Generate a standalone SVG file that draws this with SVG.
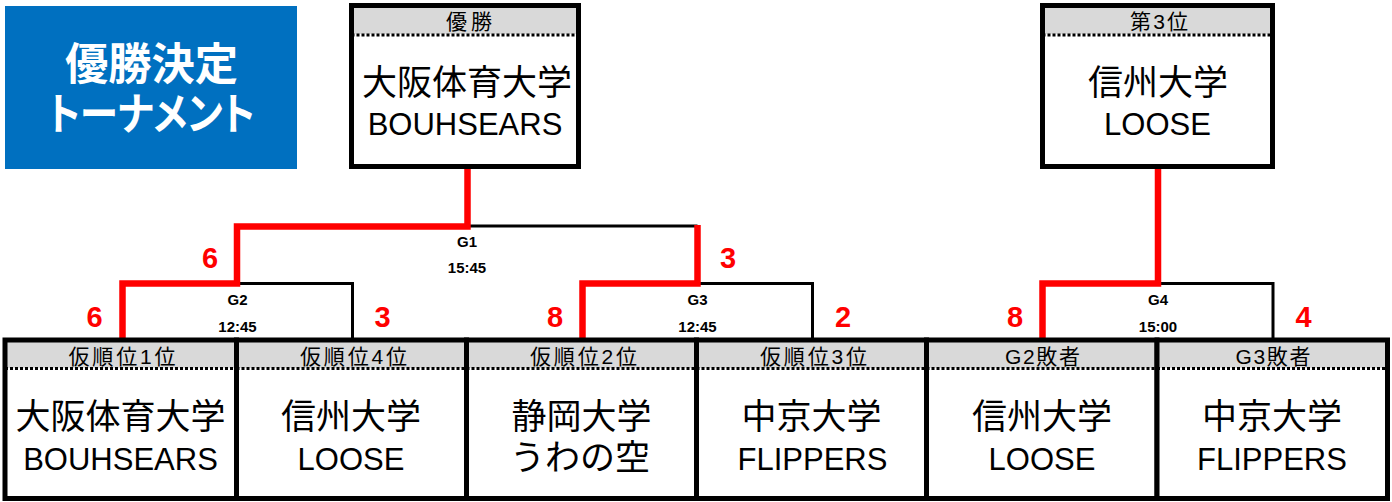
<svg xmlns="http://www.w3.org/2000/svg" width="1392" height="502" viewBox="0 0 1392 502">
<style>
text{font-family:"Liberation Sans","Noto Sans CJK JP",sans-serif;text-anchor:middle;fill:#000}
.hd{font-size:21px}
.jp{font-size:35px}
.en{font-size:31px}
.gl{font-size:15px;font-weight:bold}
.sc{font-size:29px;font-weight:bold;fill:#FF0000}
.ttl{font-size:44px;font-weight:bold;fill:#fff;font-family:"Noto Sans CJK JP",sans-serif;font-feature-settings:"palt"}
.bg{fill:#fff}
.hdbg{fill:#D9D9D9}
.dot{stroke:#000;stroke-width:3;stroke-dasharray:3 2;fill:none}
.bd{fill:none;stroke:#000;stroke-width:5}
.bk{fill:none;stroke:#000;stroke-width:3}
.rd{fill:none;stroke:#FF0000;stroke-width:6.5;stroke-linejoin:miter}
</style>
<rect width="1392" height="502" fill="#fff"/>
<g id="title">
<rect x="5" y="6" width="292" height="163" fill="#0070C0"/>
<text class="ttl" x="151.5" y="80" textLength="173" lengthAdjust="spacingAndGlyphs">優勝決定</text>
<text class="ttl" x="151.5" y="130" textLength="207" lengthAdjust="spacingAndGlyphs">トーナメント</text>
</g>
<g id="connectors">
<path class="bk" d="M467.5 226 H697.5"/>
<path class="bk" d="M237 283.5 H352.5 V340"/>
<path class="bk" d="M697.5 283.5 H812.5 V340"/>
<path class="bk" d="M1158 283.5 H1273 V340"/>
<path class="rd" d="M467.5 166 V226.5 H237 V283.5 H122.5 V340"/>
<path class="rd" d="M697.5 225 V283.5 H582.5 V340"/>
<path class="rd" d="M1158 166 V283.5 H1042.5 V340"/>
</g>
<g id="labels">
<text class="gl" x="467" y="247">G1</text>
<text class="gl" x="467" y="273">15:45</text>
<text class="gl" x="237.5" y="305">G2</text>
<text class="gl" x="237.5" y="332">12:45</text>
<text class="gl" x="697.5" y="305">G3</text>
<text class="gl" x="697.5" y="332">12:45</text>
<text class="gl" x="1158" y="305">G4</text>
<text class="gl" x="1158" y="332">15:00</text>
<text class="sc" x="210" y="268">6</text>
<text class="sc" x="728" y="268">3</text>
<text class="sc" x="94.5" y="327">6</text>
<text class="sc" x="382.5" y="327">3</text>
<text class="sc" x="555" y="327">8</text>
<text class="sc" x="843" y="327">2</text>
<text class="sc" x="1015" y="327">8</text>
<text class="sc" x="1303.5" y="327">4</text>
</g>
<g id="winner">
<rect class="bg" x="351.5" y="5.5" width="227" height="161"/>
<rect class="hdbg" x="351.5" y="5.5" width="227" height="28.5"/>
<line class="dot" x1="351.5" y1="35" x2="578.5" y2="35"/>
<rect class="bd" x="351.5" y="5.5" width="227" height="161"/>
<text class="hd" x="469" y="29" textLength="46">優勝</text>
<text class="jp" x="467" y="95">大阪体育大学</text>
<text class="en" x="465" y="135">BOUHSEARS</text>
</g>
<g id="third">
<rect class="bg" x="1042.5" y="5.5" width="230" height="161"/>
<rect class="hdbg" x="1042.5" y="5.5" width="230" height="28.5"/>
<line class="dot" x1="1042.5" y1="35" x2="1272.5" y2="35"/>
<rect class="bd" x="1042.5" y="5.5" width="230" height="161"/>
<text class="hd" x="1159" y="29" textLength="58">第3位</text>
<text class="jp" x="1158" y="95">信州大学</text>
<text class="en" x="1157.5" y="135">LOOSE</text>
</g>
<g id="seed1">
<rect class="bg" x="5" y="340" width="231.5" height="158.5"/>
<rect class="hdbg" x="5" y="340" width="231.5" height="28"/>
<line class="dot" x1="5" y1="368.5" x2="236.5" y2="368.5"/>
<rect class="bd" x="5" y="340" width="231.5" height="158.5"/>
<text class="hd" x="122" y="363.5" textLength="107">仮順位1位</text>
<text class="jp" x="120.5" y="429">大阪体育大学</text>
<text class="en" x="120.5" y="470">BOUHSEARS</text>
</g>
<g id="seed4">
<rect class="bg" x="236.5" y="340" width="230" height="158.5"/>
<rect class="hdbg" x="236.5" y="340" width="230" height="28"/>
<line class="dot" x1="236.5" y1="368.5" x2="466.5" y2="368.5"/>
<rect class="bd" x="236.5" y="340" width="230" height="158.5"/>
<text class="hd" x="353.5" y="363.5" textLength="107">仮順位4位</text>
<text class="jp" x="351" y="429">信州大学</text>
<text class="en" x="351" y="470">LOOSE</text>
</g>
<g id="seed2">
<rect class="bg" x="466.5" y="340" width="230" height="158.5"/>
<rect class="hdbg" x="466.5" y="340" width="230" height="28"/>
<line class="dot" x1="466.5" y1="368.5" x2="696.5" y2="368.5"/>
<rect class="bd" x="466.5" y="340" width="230" height="158.5"/>
<text class="hd" x="583.5" y="363.5" textLength="107">仮順位2位</text>
<text class="jp" x="581.5" y="429">静岡大学</text>
<text class="jp" x="580" y="470">うわの空</text>
</g>
<g id="seed3">
<rect class="bg" x="696.5" y="340" width="230" height="158.5"/>
<rect class="hdbg" x="696.5" y="340" width="230" height="28"/>
<line class="dot" x1="696.5" y1="368.5" x2="926.5" y2="368.5"/>
<rect class="bd" x="696.5" y="340" width="230" height="158.5"/>
<text class="hd" x="813.5" y="363.5" textLength="107">仮順位3位</text>
<text class="jp" x="811.5" y="429">中京大学</text>
<text class="en" x="812.5" y="470">FLIPPERS</text>
</g>
<g id="g2loser">
<rect class="bg" x="926.5" y="340" width="230.5" height="158.5"/>
<rect class="hdbg" x="926.5" y="340" width="230.5" height="28"/>
<line class="dot" x1="926.5" y1="368.5" x2="1157" y2="368.5"/>
<rect class="bd" x="926.5" y="340" width="230.5" height="158.5"/>
<text class="hd" x="1042.5" y="363.5" textLength="75">G2敗者</text>
<text class="jp" x="1042" y="429">信州大学</text>
<text class="en" x="1042" y="470">LOOSE</text>
</g>
<g id="g3loser">
<rect class="bg" x="1157" y="340" width="230.5" height="158.5"/>
<rect class="hdbg" x="1157" y="340" width="230.5" height="28"/>
<line class="dot" x1="1157" y1="368.5" x2="1387.5" y2="368.5"/>
<rect class="bd" x="1157" y="340" width="230.5" height="158.5"/>
<text class="hd" x="1273" y="363.5" textLength="75">G3敗者</text>
<text class="jp" x="1272" y="429">中京大学</text>
<text class="en" x="1272" y="470">FLIPPERS</text>
</g>
</svg>
